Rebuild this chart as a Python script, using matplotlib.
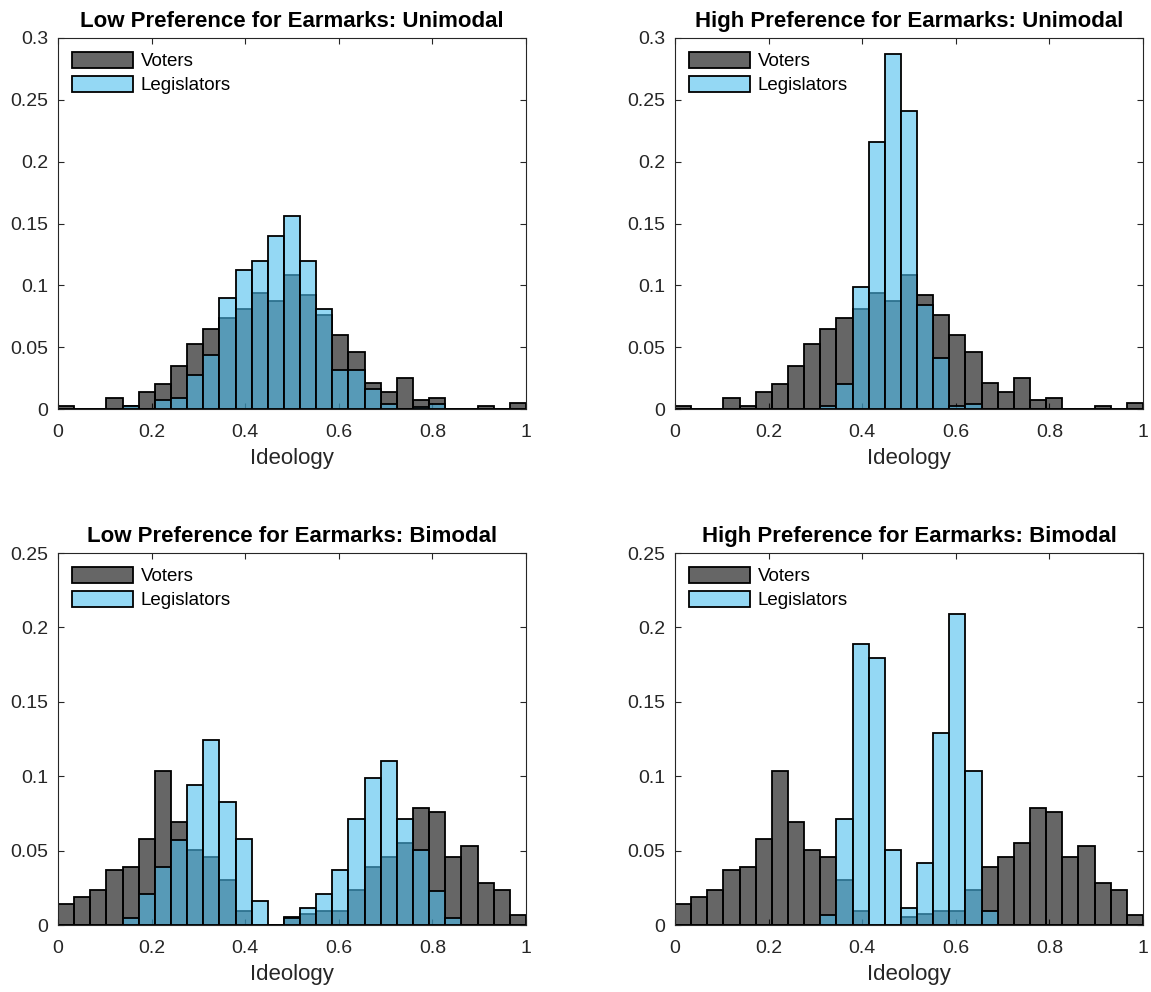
import numpy as np
import matplotlib
matplotlib.use('Agg')
import matplotlib.pyplot as plt
from matplotlib.ticker import FuncFormatter

plt.rcParams['font.family'] = ['Liberation Sans', 'DejaVu Sans']

# ---------------- data (probability per bin, 29 equal bins on [0, 1]) ----------------
n_bins = 29
bin_edges = np.linspace(0, 1, n_bins + 1)

voters_unimodal = [0.0022, 0, 0, 0.0092, 0.0022, 0.014, 0.0205, 0.0345, 0.0528, 0.0644,
                   0.0735, 0.0808, 0.0942, 0.0875, 0.108, 0.0918, 0.0757, 0.0598, 0.0458,
                   0.0207, 0.014, 0.025, 0.007, 0.0092, 0, 0, 0.0022, 0, 0.0046]
legis_low_unimodal = [0, 0, 0, 0, 0.0023, 0, 0.007, 0.0089, 0.0274, 0.0435, 0.0896, 0.1125,
                      0.1194, 0.1398, 0.1562, 0.1194, 0.0805, 0.0319, 0.0319, 0.0158, 0.0043,
                      0, 0.002, 0.0043, 0, 0, 0, 0, 0]
legis_high_unimodal = [0, 0, 0, 0, 0, 0, 0, 0, 0, 0.0022, 0.0205, 0.0988, 0.216, 0.287, 0.241,
                       0.0845, 0.041, 0.0022, 0.0043, 0, 0, 0, 0, 0, 0, 0, 0, 0, 0]
voters_bimodal = [0.0139, 0.0186, 0.0233, 0.037, 0.0392, 0.0576, 0.1036, 0.0691, 0.0507, 0.046,
                  0.0303, 0.0096, 0, 0, 0.0052, 0.0074, 0.0096, 0.0096, 0.0235, 0.0392, 0.046,
                  0.0554, 0.0785, 0.076, 0.046, 0.0531, 0.028, 0.0233, 0.007]
legis_low_bimodal = [0, 0, 0, 0, 0.0045, 0.0209, 0.039, 0.0574, 0.0944, 0.1242, 0.0827, 0.0576,
                     0.0164, 0, 0.0049, 0.0117, 0.0209, 0.037, 0.0715, 0.0989, 0.1105, 0.0715,
                     0.0504, 0.0231, 0.0045, 0, 0, 0, 0]
legis_high_bimodal = [0, 0, 0, 0, 0, 0, 0, 0, 0, 0.0067, 0.0715, 0.1886, 0.1796, 0.0507, 0.0117,
                      0.0415, 0.1289, 0.2092, 0.1038, 0.0092, 0, 0, 0, 0, 0, 0, 0, 0, 0]

titles = ['Low Preference for Earmarks: Unimodal', 'High Preference for Earmarks: Unimodal',
          'Low Preference for Earmarks: Bimodal', 'High Preference for Earmarks: Bimodal']
panel_voters = [voters_unimodal, voters_unimodal, voters_bimodal, voters_bimodal]
panel_legis = [legis_low_unimodal, legis_high_unimodal, legis_low_bimodal, legis_high_bimodal]
panel_ymax = [0.3, 0.3, 0.25, 0.25]
x_ticks = [0, 0.2, 0.4, 0.6, 0.8, 1]
series_labels = ['Voters', 'Legislators']
x_label = 'Ideology'

# ---------------- style ----------------
W, H = 1151, 992
fig = plt.figure(figsize=(W / 100, H / 100), dpi=100)
ax_color = '#262626'
voter_face = (0, 0, 0, 0.6)
legis_face = (0.30, 0.745, 0.933, 0.6)

# axes rectangles in pixels: (left, top, right, bottom)
rects = [(58, 38, 526, 409), (675, 38, 1143, 409),
         (58, 553, 526, 925), (675, 553, 1143, 925)]

fmt = FuncFormatter(lambda v, p: ('%g' % round(v, 4)))

for i in range(4):
    l, t, r, b = rects[i]
    ax = fig.add_axes([l / W, 1 - b / H, (r - l) / W, (b - t) / H])
    width = bin_edges[1] - bin_edges[0]
    ax.bar(bin_edges[:-1], panel_voters[i], width=width, align='edge',
           facecolor=voter_face, edgecolor='black', linewidth=1.3,
           label=series_labels[0], zorder=2)
    ax.bar(bin_edges[:-1], panel_legis[i], width=width, align='edge',
           facecolor=legis_face, edgecolor='black', linewidth=1.3,
           label=series_labels[1], zorder=3)
    ax.set_xlim(0, 1)
    ax.set_ylim(0, panel_ymax[i])
    ax.set_xticks(x_ticks)
    ax.set_yticks(np.arange(0, panel_ymax[i] + 1e-9, 0.05))
    ax.xaxis.set_major_formatter(fmt)
    ax.yaxis.set_major_formatter(fmt)
    ax.tick_params(direction='in', length=4, width=0.8, colors=ax_color,
                   labelsize=14, top=True, right=True)
    ax.tick_params(axis='x', pad=11)
    ax.tick_params(axis='y', pad=7)
    for s in ax.spines.values():
        s.set_color(ax_color)
        s.set_linewidth(0.8)
        s.set_zorder(5)
    ax.set_xlabel(x_label, fontsize=16, color=ax_color, labelpad=5)
    ax.set_title(titles[i], fontsize=16, fontweight='bold', color='black', pad=8)
    ax.legend(loc='upper left', frameon=False, fontsize=13.5, handlelength=3.3,
              handleheight=0.95, handletextpad=0.4, labelspacing=0.3,
              borderpad=0, borderaxespad=0.72)

fig.savefig('out.png', dpi=100)
